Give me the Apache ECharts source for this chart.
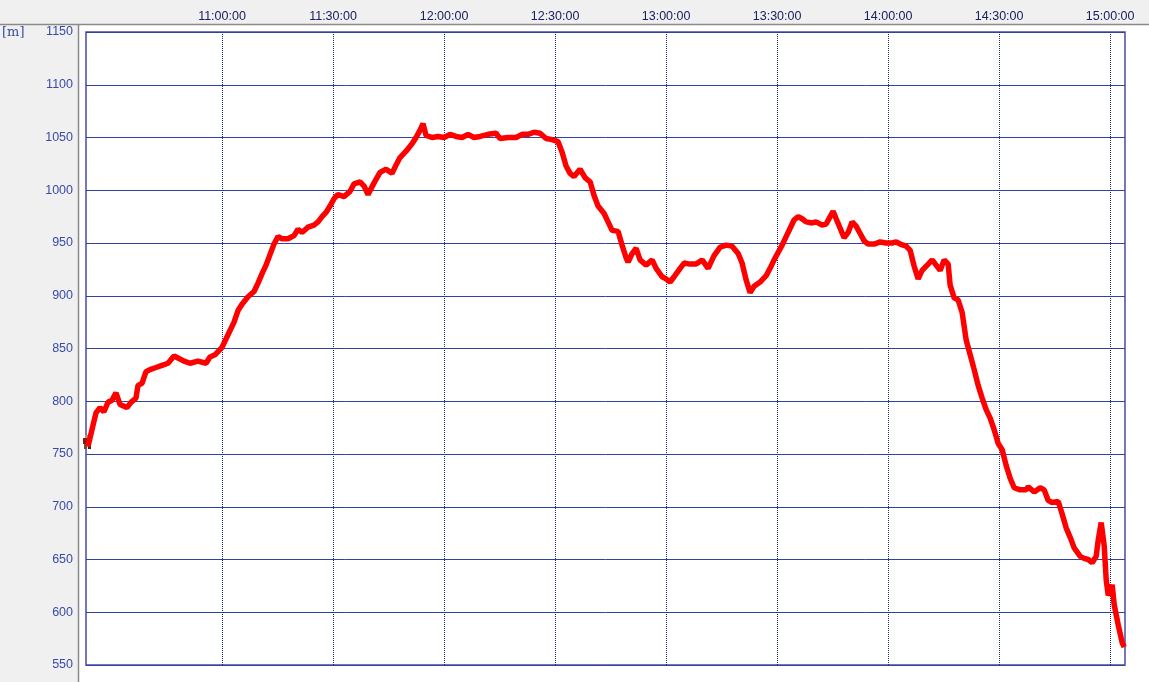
<!DOCTYPE html>
<html>
<head>
<meta charset="utf-8">
<script src="https://cdn.jsdelivr.net/npm/echarts@6/dist/echarts.min.js"></script>
<style>
html,body{margin:0;padding:0;background:#f0f0f0;}
#c{width:1149px;height:682px;}
</style>
</head>
<body>
<div id="c"></div>
<script>
const times = ['10:23:47','10:24:52','10:25:57','10:27:02','10:28:06','10:29:11','10:30:16','10:31:21','10:32:26','10:34:19',
'10:35:24','10:36:45','10:37:18','10:38:23','10:39:28','10:40:32','10:42:10','10:43:47','10:45:24','10:47:02',
'10:48:06','10:49:44','10:51:21','10:53:31','10:55:41','10:56:45','10:58:06','11:00:00','11:01:37','11:03:15',
'11:04:19','11:05:24','11:07:02','11:08:39','11:09:44','11:10:49','11:11:54','11:12:58','11:14:03','11:15:08',
'11:16:13','11:17:50','11:19:28','11:20:32','11:21:37','11:23:15','11:24:52','11:25:57','11:27:02','11:28:06',
'11:29:11','11:30:16','11:31:21','11:32:58','11:34:36','11:35:41','11:37:18','11:38:23','11:39:28','11:41:05',
'11:42:42','11:44:19','11:45:57','11:47:02','11:48:06','11:49:44','11:51:21','11:52:26','11:53:31','11:54:19',
'11:55:08','11:56:45','11:58:23','12:00:00','12:01:37','12:03:15','12:04:52','12:06:29','12:08:06','12:09:44',
'12:11:54','12:14:03','12:15:08','12:17:18','12:19:28','12:21:05','12:22:42','12:24:19','12:25:57','12:27:34',
'12:29:11','12:30:49','12:31:54','12:32:58','12:34:03','12:35:08','12:36:45','12:38:06','12:39:28','12:40:32',
'12:41:37','12:43:15','12:44:19','12:45:24','12:47:02','12:48:06','12:49:11','12:49:44','12:50:49','12:51:54',
'12:52:58','12:54:36','12:56:13','12:57:18','12:58:55','13:00:00','13:01:05','13:02:10','13:03:47','13:04:52',
'13:06:29','13:08:06','13:09:44','13:11:21','13:12:58','13:14:36','13:16:13','13:17:50','13:19:28','13:20:32',
'13:21:37','13:22:42','13:23:47','13:25:24','13:27:02','13:28:06','13:29:11','13:30:16','13:31:21','13:32:26',
'13:33:31','13:34:36','13:35:41','13:36:45','13:37:50','13:39:28','13:40:32','13:42:10','13:43:15','13:44:19',
'13:45:08','13:45:57','13:47:02','13:48:06','13:49:11','13:50:16','13:51:21','13:52:26','13:53:31','13:54:36',
'13:56:13','13:57:50','13:59:28','14:01:05','14:02:10','14:03:15','14:04:52','14:05:57','14:07:02','14:08:06',
'14:09:11','14:10:49','14:11:54','14:12:58','14:14:03','14:15:08','14:16:13','14:16:45','14:17:50','14:18:55',
'14:20:00','14:21:05','14:22:10','14:23:15','14:24:19','14:25:24','14:26:29','14:27:34','14:28:39','14:29:44',
'14:30:49','14:31:54','14:32:58','14:34:03','14:35:41','14:37:18','14:37:50','14:39:28','14:41:05','14:42:10',
'14:43:15','14:44:19','14:45:57','14:47:02','14:48:06','14:49:11','14:50:16','14:51:54','14:52:58','14:54:03',
'14:55:08','14:56:13','14:56:45','14:57:34','14:58:23','14:58:55','14:59:28','15:00:00','15:00:32','15:01:05',
'15:02:10','15:03:15','15:03:47'];
const elevation = [757,773,789,794,790,799,801,808,797,794,
799,803,815,817,828,830,832,834,836,843,
841,838,836,838,836,842,844,851,863,875,
886,892,899,904,912,921,929,939,949,956,
954,954,957,963,960,965,967,970,975,979,
985,992,996,994,999,1006,1008,1004,996,1007,
1017,1020,1016,1024,1031,1037,1044,1050,1057,1063,
1052,1050,1051,1050,1053,1051,1050,1053,1050,1051,
1053,1054,1049,1050,1050,1053,1053,1055,1054,1049,
1048,1046,1036,1023,1016,1013,1020,1012,1008,995,
985,978,970,962,961,948,936,932,940,945,
934,929,934,926,918,916,913,918,926,931,
930,930,934,926,938,946,948,947,940,931,
915,903,909,913,919,926,934,941,948,956,
964,972,975,973,970,969,970,967,968,975,
980,973,964,955,960,970,966,959,952,949,
949,951,950,950,951,949,947,943,928,916,
924,930,934,929,924,934,930,910,898,896,
884,858,844,830,815,803,792,784,773,760,
754,739,727,718,716,716,719,714,718,716,
706,704,705,693,680,671,661,653,651,650,
647,653,668,685,663,631,616,620,626,607,
588,571,567];
const gridTimes = ['11:00:00','11:30:00','12:00:00','12:30:00','13:00:00','13:30:00','14:00:00','14:30:00','15:00:00'];
const axisStart = '10:23:15';
const axisEnd = '15:04:00';

function secs(t){const p=t.split(':').map(Number);return p[0]*3600+p[1]*60+p[2];}

const data = times.map((t,i)=>[secs(t), elevation[i]]);

const chart = echarts.init(document.getElementById('c'), null, {renderer:'canvas'});
chart.setOption({
  animation:false,
  backgroundColor:'#f0f0f0',
  graphic:[
    {type:'rect', shape:{x:78,y:24,width:1071,height:658}, style:{fill:'#ffffff'}, z:-10, silent:true},
    {type:'line', shape:{x1:0,y1:24.5,x2:1149,y2:24.5}, style:{stroke:'#8a8a8a',lineWidth:1.5}, z:-9, silent:true},
    {type:'line', shape:{x1:78.5,y1:24,x2:78.5,y2:682}, style:{stroke:'#8a8a8a',lineWidth:1.5}, z:-9, silent:true},
    {type:'text', left:2, top:26, style:{text:'[m]', fill:'#3a4aa8', font:'13px "DejaVu Serif", serif'}, silent:true},
    {type:'group', left:83, top:435, z:100, silent:true, children:[
      {type:'rect', shape:{x:3,y:0,width:4,height:3}, style:{fill:'#c89060'}},
      {type:'rect', shape:{x:1,y:3,width:7,height:6}, style:{fill:'#8a1818'}},
      {type:'rect', shape:{x:2,y:9,width:3,height:5}, style:{fill:'#6a5030'}},
      {type:'rect', shape:{x:6,y:9,width:3,height:5}, style:{fill:'#3a2a1a'}}
    ]}
  ],
  grid:{left:86, top:32, right:24, bottom:17, show:true, borderColor:'#4a4aa8', borderWidth:1.5, backgroundColor:'transparent'},
  xAxis:{
    type:'value', position:'top', min:secs(axisStart), max:secs(axisEnd),
    axisLine:{show:false}, axisTick:{show:false}, splitLine:{show:false},
    axisLabel:{show:false}
  },
  yAxis:{
    type:'value', min:550, max:1150, interval:50,
    axisLine:{show:false}, axisTick:{show:false},
    splitLine:{show:true, lineStyle:{color:'#2e44a0', width:1}},
    axisLabel:{color:'#3a4aa8', fontSize:12.5, fontFamily:'"Liberation Sans", Arial, sans-serif', margin:13,
               formatter:function(v){return String(v);}}
  },
  series:[{
    type:'line', data:data, showSymbol:false, symbol:'none',
    lineStyle:{color:'#ff0000', width:5.5},
    z:5,
    markLine:{
      silent:true, symbol:['none','none'],
      label:{show:true, position:'end', distance:9, color:'#1a2060', fontSize:12.5,
             fontFamily:'"Liberation Sans", Arial, sans-serif',
             formatter:function(p){return p.name;}},
      lineStyle:{color:'#1a2a80', type:'dotted', width:1},
      z:1,
      data: gridTimes.map(t=>({name:t, xAxis:secs(t)}))
    }
  }]
});
</script>
</body>
</html>
